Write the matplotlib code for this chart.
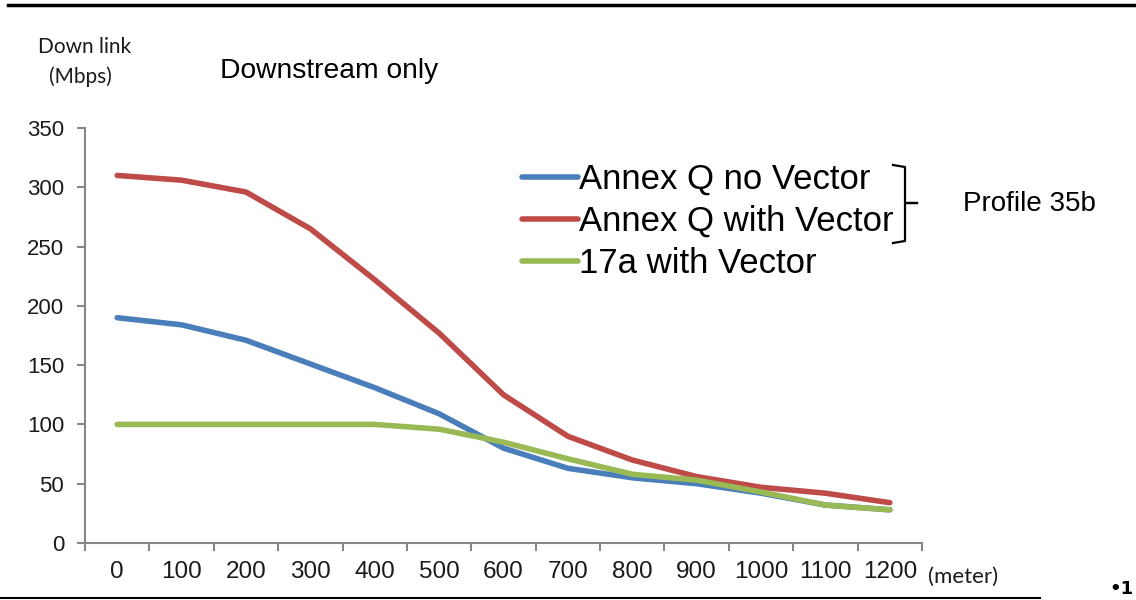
import matplotlib
matplotlib.use("Agg")
import matplotlib.pyplot as plt
from matplotlib.lines import Line2D

distances = [0, 100, 200, 300, 400, 500, 600, 700, 800, 900, 1000, 1100, 1200]
annex_q_no_vector = [190, 184, 171, 151, 131, 109, 80, 63, 55, 50, 42, 32, 28]
annex_q_with_vector = [310, 306, 296, 265, 222, 177, 125, 90, 70, 56, 47, 42, 34]
a17_with_vector = [100, 100, 100, 100, 100, 96, 85, 71, 58, 53, 43, 32, 28]
y_ticks = [0, 50, 100, 150, 200, 250, 300, 350]
series_labels = ["Annex Q no Vector", "Annex Q with Vector", "17a with Vector"]
colors = ["#4A7EBB", "#BE4B48", "#98B954"]

W, H = 1136, 600
fig = plt.figure(figsize=(W / 100, H / 100), dpi=100)
fig.patch.set_facecolor("white")

def fx(px):
    return px / W

def fy(py):
    return 1 - py / H

ax = fig.add_axes([fx(85), fy(543), fx(922) - fx(85), fy(128) - fy(543)])
xs = list(range(len(distances)))
for vals, c, lab in zip([annex_q_no_vector, annex_q_with_vector, a17_with_vector], colors, series_labels):
    ax.plot(xs, vals, color=c, lw=4, solid_capstyle="round", solid_joinstyle="round", label=lab)

ax.set_xlim(-0.5, len(distances) - 0.5)
ax.set_ylim(0, 350)
ax.set_yticks(y_ticks)
ax.set_yticklabels([str(v) for v in y_ticks], fontsize=16, family="Liberation Sans", color="#1a1a1a")
ax.set_xticks(xs)
ax.set_xticklabels([str(d) for d in distances], fontsize=17.5, family="Liberation Sans", color="#1a1a1a")
ax.set_xticks([i - 0.5 for i in range(len(distances) + 1)], minor=True)
ax.tick_params(axis="x", which="major", length=0, pad=13)
ax.tick_params(axis="x", which="minor", length=6, color="#868686", width=1.5, direction="out")
ax.tick_params(axis="y", length=6, color="#868686", width=1.5, direction="out", pad=9)
for s in ["top", "right"]:
    ax.spines[s].set_visible(False)
for s in ["left", "bottom"]:
    ax.spines[s].set_color("#868686")
    ax.spines[s].set_linewidth(1.5)

# legend
leg = fig.legend(loc="upper left", bbox_to_anchor=(fx(522), fy(163)), frameon=False,
                 prop={"family": "Liberation Sans", "size": 25}, handlelength=1.6,
                 handletextpad=0.05, labelspacing=0.26, borderpad=0, borderaxespad=0)
for l in leg.get_lines():
    l.set_linewidth(4)

# brace
bx = 905
fig.add_artist(Line2D([fx(893), fx(bx), fx(bx), fx(917)],
                      [fy(165), fy(167), fy(203), fy(203)], color="black", lw=1.6,
                      transform=fig.transFigure))
fig.add_artist(Line2D([fx(917), fx(bx), fx(bx), fx(893)],
                      [fy(203), fy(203), fy(241), fy(243)], color="black", lw=1.6,
                      transform=fig.transFigure))
fig.text(fx(963), fy(204), "Profile 35b", fontsize=20, family="Liberation Sans", va="center", ha="left")

# titles / axis labels
fig.text(fx(85), fy(47), "Down link", fontsize=15, family="Lato", ha="center", va="center", color="#1a1a1a")
fig.text(fx(80), fy(77), "(Mbps)", fontsize=15, family="Lato", ha="center", va="center", color="#1a1a1a")
fig.text(fx(220), fy(71), "Downstream only", fontsize=20.3, family="Liberation Sans", ha="left", va="center")
fig.text(fx(928), fy(577), "(meter)", fontsize=16, family="Lato", ha="left", va="center", color="#1a1a1a")

# slide decorations
fig.add_artist(Line2D([fx(8), fx(1136)], [fy(5), fy(5)], color="black", lw=2.5, transform=fig.transFigure))
fig.add_artist(Line2D([fx(0), fx(1040)], [fy(598), fy(598)], color="black", lw=1.5, transform=fig.transFigure))
fig.text(fx(1134), fy(598), "\u20221", fontsize=13, family="DejaVu Sans", weight="bold", ha="right", va="bottom")

fig.savefig("out.png", dpi=100)
